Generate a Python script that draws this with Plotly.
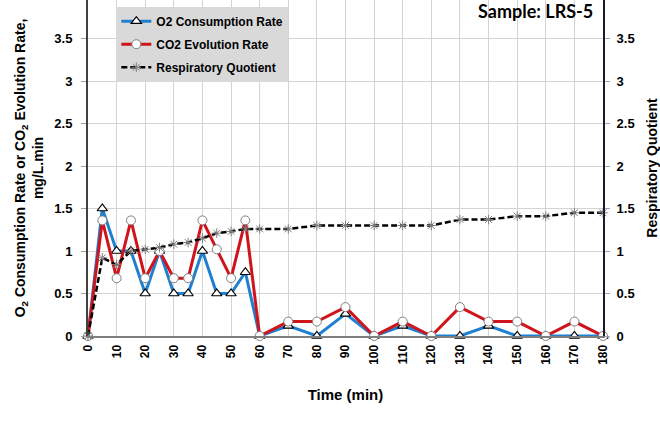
import plotly.graph_objects as go

# Sampling times (min)
time_min = [0, 5, 10, 15, 20, 25, 30, 35, 40, 45, 50, 55, 60,
            70, 80, 90, 100, 110, 120, 130, 140, 150, 160, 170, 180]

# O2 consumption rate (mg/L.min)
o2_rate = [0, 1.5, 1.0, 1.0, 0.5, 1.0, 0.5, 0.5, 1.0, 0.5, 0.5, 0.75, 0,
           0.12, 0, 0.26, 0, 0.12, 0, 0, 0.12, 0, 0, 0, 0]

# CO2 evolution rate (mg/L.min)
co2_rate = [0, 1.36, 0.68, 1.36, 0.68, 1.0, 0.68, 0.68, 1.36, 1.02, 0.68, 1.36, 0,
            0.17, 0.17, 0.34, 0, 0.17, 0, 0.34, 0.17, 0.17, 0, 0.17, 0]

# Respiratory quotient (-)
resp_quotient = [0, 0.92, 0.84, 1.0, 1.02, 1.04, 1.08, 1.1, 1.15, 1.21, 1.23, 1.26, 1.26,
                 1.26, 1.3, 1.3, 1.3, 1.3, 1.3, 1.37, 1.37, 1.41, 1.41, 1.45, 1.45]

x_ticks = list(range(0, 181, 10))
y_ticks = [0, 0.5, 1, 1.5, 2, 2.5, 3, 3.5]
y_labels = ["0", "0.5", "1", "1.5", "2", "2.5", "3", "3.5"]

FONT = "Liberation Sans, Arial, sans-serif"
Y_RANGE = [0, 3.953]

fig = go.Figure()

fig.add_trace(go.Scatter(
    x=time_min, y=o2_rate, name="O2 Consumption Rate", legendgroup="o2",
    mode="lines+markers", cliponaxis=False,
    line=dict(color="#1f7fd0", width=3),
    marker=dict(symbol="triangle-up", size=9, color="white",
                line=dict(color="black", width=1.2)),
))

fig.add_trace(go.Scatter(
    x=time_min, y=co2_rate, name="CO2 Evolution Rate", legendgroup="co2",
    mode="lines+markers", cliponaxis=False,
    line=dict(color="#d0141c", width=3),
    marker=dict(symbol="circle", size=9, color="white",
                line=dict(color="#808080", width=1)),
))

fig.add_trace(go.Scatter(
    x=time_min, y=resp_quotient, name="Respiratory Quotient", legendgroup="rq",
    mode="lines+markers", cliponaxis=False, yaxis="y2",
    line=dict(color="black", width=2.5, dash="6px,3px"),
    marker=dict(symbol="asterisk-open", size=8, color="#7f7f7f",
                line=dict(color="#7f7f7f", width=1)),
))

fig.update_layout(
    width=660, height=423,
    margin=dict(l=88, r=57, t=0, b=87),
    paper_bgcolor="white", plot_bgcolor="white",
    font=dict(family=FONT, size=12, color="black"),
    showlegend=True,
    legend=dict(
        x=0.055, y=0.98, xanchor="left", yanchor="top",
        bgcolor="#d9d9d9", borderwidth=0,
        font=dict(family=FONT, size=12, color="black", weight="bold"),
        itemwidth=30, tracegroupgap=4,
    ),
    xaxis=dict(
        range=[0, 180], tickvals=x_ticks, ticktext=[str(t) for t in x_ticks],
        tickangle=-90, showgrid=True, gridcolor="#d4d4d4", gridwidth=1,
        showline=True, linecolor="#7f7f7f", linewidth=2,
        ticks="", zeroline=False, ticklabelstandoff=2,
        tickfont=dict(family=FONT, size=12, color="black", weight="bold"),
        title=dict(text="Time (min)", standoff=26,
                   font=dict(family=FONT, size=15, color="black", weight="bold")),
    ),
    yaxis=dict(
        range=Y_RANGE, tickvals=y_ticks, ticktext=y_labels,
        showgrid=True, gridcolor="#d4d4d4", gridwidth=1,
        showline=True, linecolor="#404040", linewidth=2,
        ticks="outside", ticklen=5, tickcolor="#a0a0a0",
        zeroline=False, ticklabelstandoff=6,
        tickfont=dict(family=FONT, size=13, color="black", weight="bold"),
        title=dict(text="O<sub>2</sub> Consumption Rate or CO<sub>2</sub> Evolution Rate,<br>mg/L.min",
                   standoff=7,
                   font=dict(family=FONT, size=14, color="black", weight="bold")),
    ),
    yaxis2=dict(
        range=Y_RANGE, tickvals=y_ticks, ticktext=y_labels,
        overlaying="y", side="right", showgrid=False,
        showline=True, linecolor="#1a1a2e", linewidth=2,
        ticks="outside", ticklen=5, tickcolor="#8fa8cc",
        zeroline=False, ticklabelstandoff=4,
        tickfont=dict(family=FONT, size=13, color="black", weight="bold"),
        title=dict(text="Respiratory Quotient", standoff=16,
                   font=dict(family=FONT, size=14, color="black", weight="bold")),
    ),
    annotations=[dict(
        text="Sample: LRS-5", xref="paper", yref="paper",
        x=0.985, y=0.967, xanchor="right", yanchor="middle", showarrow=False,
        font=dict(family="Lato, Open Sans, sans-serif", size=18, color="black", weight="bold"),
    )],
)

fig.write_html("out.html")
